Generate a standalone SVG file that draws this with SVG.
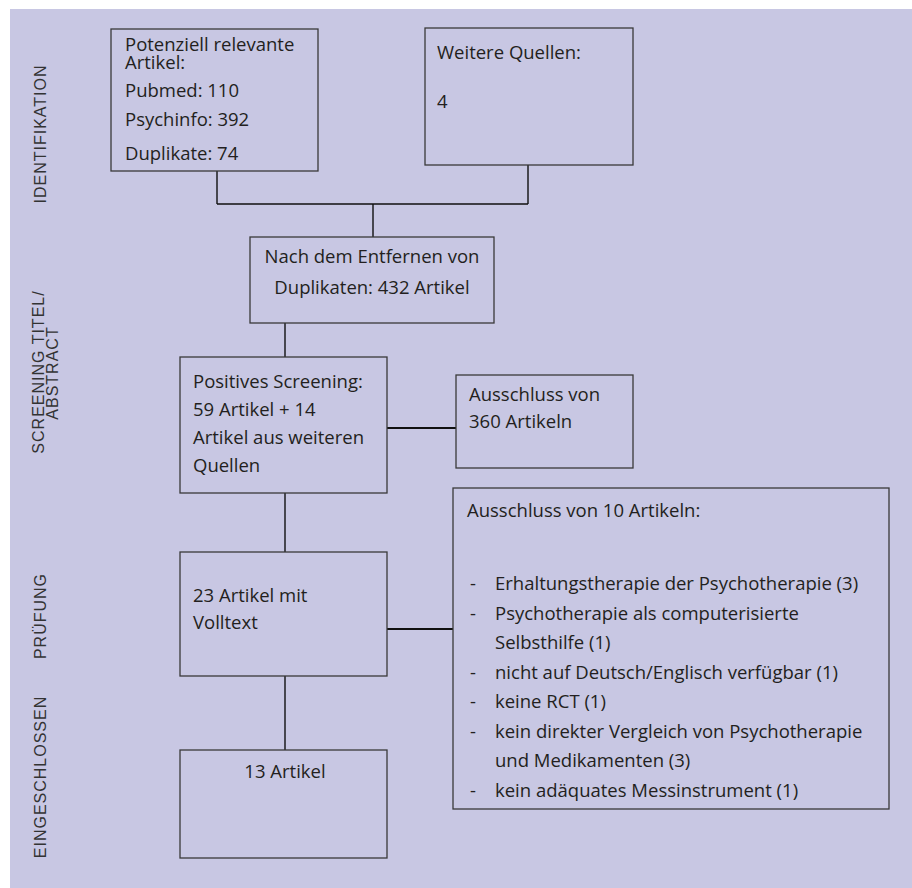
<svg xmlns="http://www.w3.org/2000/svg" width="912" height="888" viewBox="0 0 912 888">
<style>
.bg{fill:#c8c7e3}
.box{fill:none;stroke:#3a3a3a;stroke-width:1.3}
.t{font-family:"Open Sans","Liberation Sans",sans-serif;font-size:18.5px;fill:#231f20}
.c{text-anchor:middle}
.lab{font-family:"Liberation Sans","DejaVu Sans",sans-serif;font-size:16px;letter-spacing:1px;fill:#333;text-anchor:middle}
.ln{stroke:#111;stroke-width:1.4;fill:none}
.lnb{stroke:#111;stroke-width:2;fill:none}
</style>
<rect class="bg" x="10" y="9" width="902" height="879"/>
<g id="phase-labels">
<text class="lab" transform="rotate(-90)" x="-134" y="46">IDENTIFIKATION</text>
<text class="lab" transform="rotate(-90)" x="-372" y="44">SCREENING TITEL/</text>
<text class="lab" transform="rotate(-90)" x="-373" y="58">ABSTRACT</text>
<text class="lab" transform="rotate(-90)" x="-616" y="46">PRÜFUNG</text>
<text class="lab" transform="rotate(-90)" x="-777" y="46">EINGESCHLOSSEN</text>
</g>
<g id="connectors">
<path class="ln" d="M217,171 V204 M528,165 V204 M217,204 H528 M373,204 V237"/>
<path class="ln" d="M285,323 V357"/>
<path class="lnb" d="M387,428 H456"/>
<path class="ln" d="M285,493 V552"/>
<path class="lnb" d="M387,629 H453"/>
<path class="ln" d="M285,676 V750"/>
</g>
<g id="n1">
<rect class="box" x="111" y="29" width="207" height="142"/>
<text class="t" x="125" y="51">Potenziell relevante</text>
<text class="t" x="125" y="69">Artikel:</text>
<text class="t" x="125" y="97">Pubmed: 110</text>
<text class="t" x="125" y="126">Psychinfo: 392</text>
<text class="t" x="125" y="160">Duplikate: 74</text>
</g>
<g id="n2">
<rect class="box" x="425" y="28" width="208" height="137"/>
<text class="t" x="437" y="59">Weitere Quellen:</text>
<text class="t" x="437" y="108">4</text>
</g>
<g id="n3">
<rect class="box" x="250" y="237" width="244" height="86"/>
<text class="t c" x="372" y="263">Nach dem Entfernen von</text>
<text class="t c" x="372" y="294">Duplikaten: 432 Artikel</text>
</g>
<g id="n4">
<rect class="box" x="180" y="357" width="207" height="136"/>
<text class="t" x="193" y="388">Positives Screening:</text>
<text class="t" x="193" y="416">59 Artikel + 14</text>
<text class="t" x="193" y="444">Artikel aus weiteren</text>
<text class="t" x="193" y="472">Quellen</text>
</g>
<g id="n5">
<rect class="box" x="456" y="375" width="177" height="93"/>
<text class="t" x="469" y="401">Ausschluss von</text>
<text class="t" x="469" y="428">360 Artikeln</text>
</g>
<g id="n6">
<rect class="box" x="180" y="552" width="207" height="124"/>
<text class="t" x="193" y="602">23 Artikel mit</text>
<text class="t" x="193" y="629">Volltext</text>
</g>
<g id="n7">
<rect class="box" x="453" y="488" width="436" height="321"/>
<text class="t" x="467" y="517">Ausschluss von 10 Artikeln:</text>
<text class="t" x="470" y="590">-</text><text class="t" x="495" y="590">Erhaltungstherapie der Psychotherapie (3)</text>
<text class="t" x="470" y="619.5">-</text><text class="t" x="495" y="619.5">Psychotherapie als computerisierte</text>
<text class="t" x="495" y="649">Selbsthilfe (1)</text>
<text class="t" x="470" y="678.5">-</text><text class="t" x="495" y="678.5">nicht auf Deutsch/Englisch verfügbar (1)</text>
<text class="t" x="470" y="708">-</text><text class="t" x="495" y="708">keine RCT (1)</text>
<text class="t" x="470" y="737.5">-</text><text class="t" x="495" y="737.5">kein direkter Vergleich von Psychotherapie</text>
<text class="t" x="495" y="767">und Medikamenten (3)</text>
<text class="t" x="470" y="796.5">-</text><text class="t" x="495" y="796.5">kein adäquates Messinstrument (1)</text>
</g>
<g id="n8">
<rect class="box" x="180" y="750" width="207" height="108"/>
<text class="t c" x="285" y="778">13 Artikel</text>
</g>
</svg>
